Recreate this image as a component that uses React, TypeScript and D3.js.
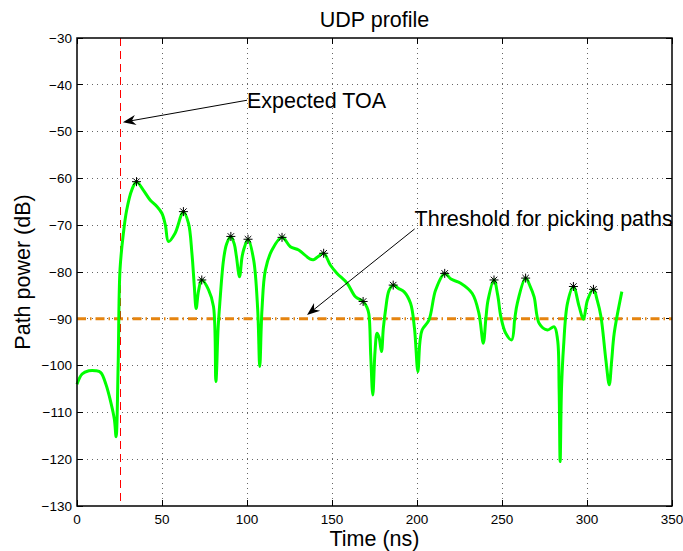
import React from "react";
import * as d3 from "d3";

// UDP power profile (dB) versus time (ns)
const timeNs = [
  0, 3, 7, 11, 14, 17, 20, 22, 23, 24.2, 25.3, 27.3, 29.2, 32.2, 35, 39, 43, 47, 50, 52, 53.8,
  57.7, 62.6, 65.6, 67.6, 69, 70.1, 71.5, 73.4, 77.4, 80.3, 81.7, 83, 84, 86.2, 88, 90.5, 92.5,
  93.7, 95.6, 97, 98, 100.6, 103.9, 106.3, 107.5, 108.8, 110.8, 114.7, 120.6, 125.5, 130.4,
  136.9, 139, 141.5, 145.1, 149, 153, 158.9, 163.8, 168.3, 170.5, 171.7, 172.8, 174, 175.3,
  176.5, 177.7, 179.1, 180.2, 181.5, 183.5, 186, 189, 192.3, 196.2, 198.5, 200.5, 201.7, 203,
  207, 211, 216.3, 220, 225.7, 232.5, 236.4, 239, 240.5, 241.8, 245.3, 247.5, 249.3, 252.2,
  255.7, 257.5, 259, 263.9, 266.5, 268.9, 271.9, 276.8, 280.7, 282.7, 283.6, 284.2, 285, 286.2,
  288.5, 292, 295.4, 297.9, 300.3, 303.8, 306, 308.2, 311.1, 313.1, 314.5, 316, 320.5,
];
const powerDb = [
  -104, -101.8, -101.1, -101.1, -101.5, -104, -108, -111.5, -115.2, -100, -79.5, -71.7, -66.8,
  -62.5, -60.7, -62.5, -64.6, -66, -67.5, -70, -73.5, -71.7, -67.1, -69.6, -76, -83, -87.8, -84,
  -81.7, -83.8, -87.4, -103.4, -92, -86.7, -77.4, -74, -72.4, -74, -76.5, -81, -77, -75.3, -73,
  -77.4, -88.1, -100.2, -88.1, -79.6, -75.3, -72.6, -74.6, -75.3, -77.2, -77.4, -76.8, -76, -78.5,
  -80.3, -82.4, -85.3, -86.3, -87.5, -89, -98, -106.3, -97, -93.1, -94, -97, -92, -88.1, -84,
  -82.8, -83.5, -84.2, -86.7, -92, -101.3, -95, -92.4, -90.3, -83.8, -80.3, -81.5, -82.4, -84.6,
  -88.8, -95.2, -90, -86, -81.7, -85, -89.5, -93.1, -94.5, -90, -86.7, -81.3, -83, -85.3, -91,
  -92.4, -91.7, -94.5, -105, -120.5, -105, -96, -86.7, -83.1, -87.4, -90.1, -86, -83.7, -86,
  -89.5, -98.8, -104.1, -99, -93.1, -84.2,
];

// Picked paths (peaks above threshold)
const peakTimes = [35, 62.6, 73.4, 90.5, 100.6, 120.6, 145.1, 168.3, 186, 216.3, 245.3, 263.9, 292, 303.8];
const peakPowers = [-60.7, -67.1, -81.7, -72.4, -73, -72.6, -76, -86.3, -82.8, -80.3, -81.7, -81.3, -83.1, -83.7];

const expectedToa = 25.3;
const thresholdDb = -90;

const xTicks = [0, 50, 100, 150, 200, 250, 300, 350];
const yTicks = [-130, -120, -110, -100, -90, -80, -70, -60, -50, -40, -30];

const W = 683;
const H = 551;
const L = 77;
const R = 672;
const T = 38;
const B = 506;

const FONT = "'Liberation Sans', Arial, Helvetica, sans-serif";
const BIG = 21.5;

function Arrow({ x1, y1, x2, y2 }: { x1: number; y1: number; x2: number; y2: number }) {
  const ang = Math.atan2(y2 - y1, x2 - x1);
  const len = 13;
  const half = 5;
  const back = 9;
  const cos = Math.cos(ang);
  const sin = Math.sin(ang);
  const bx = x2 - len * cos;
  const by = y2 - len * sin;
  const p1 = [bx - half * sin, by + half * cos];
  const p2 = [bx + half * sin, by - half * cos];
  const notch = [x2 - back * cos, y2 - back * sin];
  return (
    <g>
      <line x1={x1} y1={y1} x2={notch[0]} y2={notch[1]} stroke="#000" strokeWidth={1} />
      <path
        d={`M${x2},${y2}L${p1[0]},${p1[1]}L${notch[0]},${notch[1]}L${p2[0]},${p2[1]}Z`}
        fill="#000"
      />
    </g>
  );
}

export default function App() {
  const x = d3.scaleLinear().domain([0, 350]).range([L, R]);
  const y = d3.scaleLinear().domain([-130, -30]).range([B, T]);

  const pts: [number, number][] = timeNs.map((t, i) => [t, powerDb[i]]);
  const line = d3
    .line<[number, number]>()
    .x((d) => x(d[0]))
    .y((d) => y(d[1]))
    .curve(d3.curveCatmullRom.alpha(0.5));

  const fmt = (v: number) => (v < 0 ? "\u2212" + Math.abs(v) : String(v));

  return (
    <svg
      width={W}
      height={H}
      style={{ position: "absolute", left: 0, top: 0, background: "#fff" }}
      fontFamily={FONT}
    >
      <rect x={0} y={0} width={W} height={H} fill="#fff" />
      {/* grid */}
      <g stroke="#666" strokeWidth={1} strokeDasharray="1,4" shapeRendering="crispEdges">
        {xTicks.slice(1, -1).map((t) => (
          <line key={"gx" + t} x1={x(t)} x2={x(t)} y1={T} y2={B} />
        ))}
        {yTicks.slice(1, -1).map((t) => (
          <line key={"gy" + t} x1={L} x2={R} y1={y(t)} y2={y(t)} />
        ))}
      </g>
      {/* ticks on all four sides */}
      <g stroke="#000" strokeWidth={1} shapeRendering="crispEdges">
        {xTicks.map((t) => (
          <g key={"tx" + t}>
            <line x1={x(t)} x2={x(t)} y1={B} y2={B - 6} />
            <line x1={x(t)} x2={x(t)} y1={T} y2={T + 6} />
          </g>
        ))}
        {yTicks.map((t) => (
          <g key={"ty" + t}>
            <line x1={L} x2={L + 6} y1={y(t)} y2={y(t)} />
            <line x1={R} x2={R - 6} y1={y(t)} y2={y(t)} />
          </g>
        ))}
      </g>
      {/* threshold */}
      <line
        x1={x(0)}
        x2={x(350)}
        y1={y(thresholdDb)}
        y2={y(thresholdDb)}
        stroke="#E5840F"
        strokeWidth={3}
        strokeDasharray="9,4,1.5,4"
      />
      {/* expected TOA */}
      <line
        x1={x(expectedToa)}
        x2={x(expectedToa)}
        y1={T}
        y2={B}
        stroke="#FF0000"
        strokeWidth={1}
        strokeDasharray="8,5"
        shapeRendering="crispEdges"
      />
      {/* profile */}
      <path d={line(pts) ?? ""} fill="none" stroke="#00FF00" strokeWidth={3} strokeLinejoin="round" />
      {/* peak markers */}
      <g stroke="#000" strokeWidth={1}>
        {peakTimes.map((t, i) => {
          const cx = x(t);
          const cy = y(peakPowers[i]);
          const r = 4.5;
          const d = r * 0.72;
          return (
            <g key={"pk" + i}>
              <line x1={cx - r} x2={cx + r} y1={cy} y2={cy} />
              <line x1={cx} x2={cx} y1={cy - r} y2={cy + r} />
              <line x1={cx - d} x2={cx + d} y1={cy - d} y2={cy + d} />
              <line x1={cx - d} x2={cx + d} y1={cy + d} y2={cy - d} />
            </g>
          );
        })}
      </g>
      {/* axes box */}
      <rect x={L} y={T} width={R - L} height={B - T} fill="none" stroke="#000" strokeWidth={1.5} />
      {/* tick labels */}
      <g fontSize={13.5} fill="#000">
        {xTicks.map((t) => (
          <text key={"lx" + t} x={x(t)} y={B + 18} textAnchor="middle">
            {fmt(t)}
          </text>
        ))}
        {yTicks.map((t) => (
          <text key={"ly" + t} x={L - 5} y={y(t)} dy="0.35em" textAnchor="end">
            {fmt(t)}
          </text>
        ))}
      </g>
      {/* annotations */}
      <Arrow x1={x(100)} y1={y(-43.3)} x2={x(27)} y2={y(-48)} />
      <text x={x(100)} y={y(-43.3)} dy="0.35em" fontSize={BIG}>
        Expected TOA
      </text>
      <Arrow x1={x(198.6)} y1={y(-70.8)} x2={x(135.3)} y2={y(-89.2)} />
      <text x={x(198.6)} y={y(-68.5)} dy="0.35em" fontSize={BIG}>
        Threshold for picking paths
      </text>
      {/* titles */}
      <text x={(L + R) / 2} y={27} textAnchor="middle" fontSize={BIG}>
        UDP profile
      </text>
      <text x={(L + R) / 2} y={546} textAnchor="middle" fontSize={BIG}>
        Time (ns)
      </text>
      <text
        transform={`translate(30, ${(T + B) / 2}) rotate(-90)`}
        textAnchor="middle"
        fontSize={BIG}
      >
        Path power (dB)
      </text>
    </svg>
  );
}
